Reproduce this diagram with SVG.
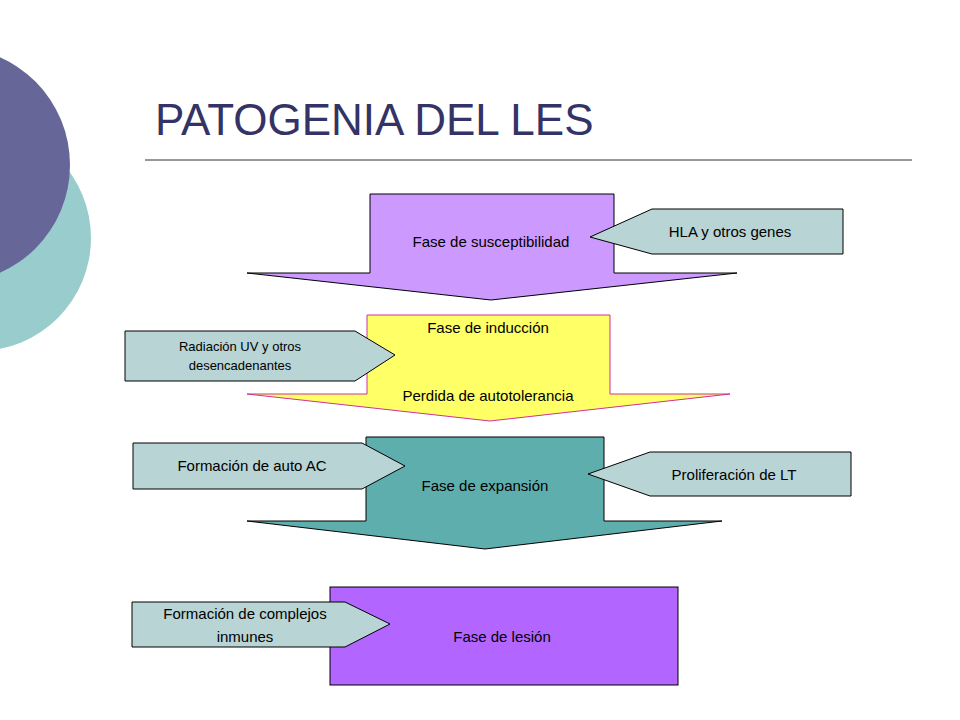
<svg xmlns="http://www.w3.org/2000/svg" width="960" height="720" viewBox="0 0 960 720">
<style>
text{font-family:"Liberation Sans",Arial,sans-serif;fill:#000}
.call{fill:#b8d4d4;stroke:#000;stroke-width:1}
.big{stroke:#000;stroke-width:1}
.t{font-size:15px;text-anchor:middle}
</style>
<rect width="960" height="720" fill="#fff"/>
<circle cx="-22" cy="238" r="113" fill="#99cccc"/>
<circle cx="-48" cy="165" r="118" fill="#666699"/>
<text x="155" y="135" style="font-size:44px;fill:#333366">PATOGENIA DEL LES</text>
<line x1="145" y1="160" x2="912" y2="160" stroke="#333" stroke-width="1"/>
<g id="n1"><path class="big" fill="#cc99ff" d="M370,194H614V273H737L491,300L247,273H370Z"/><text class="t" x="491" y="247">Fase de susceptibilidad</text></g>
<g id="n2"><path fill="#ffff66" stroke="#cc3399" stroke-width="1" d="M367,315H610V394H730L490,421L247,394H367Z"/><text class="t" x="488" y="333">Fase de inducción</text><text class="t" x="488" y="401">Perdida de autotolerancia</text></g>
<g id="n3"><path class="big" fill="#5faeae" d="M366,437H604V521H722L485,549L247,521H366Z"/><text class="t" x="485" y="491">Fase de expansión</text></g>
<g id="n4"><rect class="big" x="330" y="587" width="348" height="98" fill="#b266ff"/><text class="t" x="502" y="642">Fase de lesión</text></g>
<g id="c1"><path class="call" d="M652,209H843V254H652L590,237Z"/><text class="t" x="730" y="237">HLA y otros genes</text></g>
<g id="c2"><path class="call" d="M125,331H355L395,355L355,381H125Z"/><text x="240" y="351" style="font-size:13px;text-anchor:middle">Radiación UV y otros</text><text x="240" y="370" style="font-size:13px;text-anchor:middle">desencadenantes</text></g>
<g id="c3"><path class="call" d="M133,443H362L405,466L362,489H133Z"/><text class="t" x="252" y="471">Formación de auto AC</text></g>
<g id="c4"><path class="call" d="M650,452H851V496H650L588,474Z"/><text class="t" x="734" y="480">Proliferación de LT</text></g>
<g id="c5"><path class="call" d="M132,602H345L390,624L345,647H132Z"/><text class="t" x="245" y="619">Formación de complejos</text><text class="t" x="245" y="642">inmunes</text></g>
<g id="connectors"></g>
</svg>
